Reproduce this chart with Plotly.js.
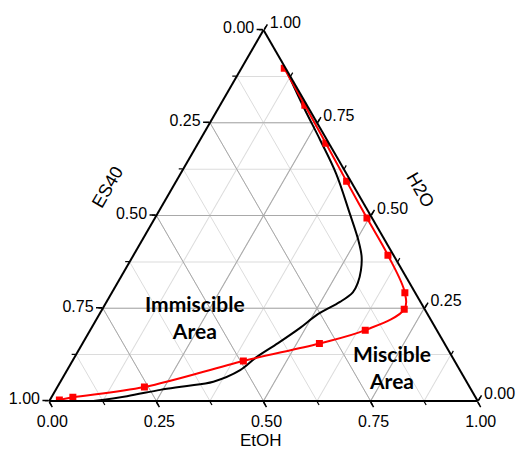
<!DOCTYPE html>
<html><head><meta charset="utf-8">
<script src="https://cdn.plot.ly/plotly-3.0.1.min.js"></script>
<style>html,body{margin:0;padding:0;background:#fff}#chart{width:523px;height:450px}</style>
</head><body><div id="chart"></div>
<script>
// Components: a = H2O (top vertex), b = ES40 (bottom-left), c = EtOH (bottom-right)
const redH2O  = [0.897,0.797,0.695,0.592,0.493,0.393,0.292,0.247,0.191,0.155,0.108,0.038,0.010,0.003];
const redES40 = [0.003,0.005,0.007,0.010,0.012,0.013,0.024,0.048,0.167,0.292,0.493,0.759,0.940,0.975];
const redEtOH = [0.100,0.198,0.298,0.398,0.495,0.594,0.684,0.705,0.642,0.553,0.399,0.203,0.050,0.022];

const blackH2O  = [0.900,0.797,0.703,0.613,0.505,0.433,0.390,0.353,0.318,0.293,0.267,0.234,0.197,0.156,0.119,0.083,0.052,0.040,0.030,0.013,0.000];
const blackES40 = [0.000,0.010,0.016,0.024,0.046,0.062,0.076,0.096,0.121,0.145,0.188,0.256,0.316,0.388,0.456,0.513,0.591,0.663,0.726,0.812,0.897];
const blackEtOH = [0.100,0.193,0.281,0.363,0.449,0.505,0.534,0.551,0.561,0.562,0.545,0.510,0.487,0.456,0.425,0.404,0.357,0.297,0.244,0.175,0.103];

// Each edge is labelled with the complementary component (counter-clockwise reading)
const tickValues = [0, 0.25, 0.5, 0.75, 1];
const tickLabels = ['1.00', '0.75', '0.50', '0.25', '0.00'];
const minorTickValues = [0, 0.125, 0.25, 0.375, 0.5, 0.625, 0.75, 0.875, 1];

const titleES40 = 'ES40', titleH2O = 'H2O', titleEtOH = 'EtOH';
const areaLabels = ['Immiscible<br>Area', 'Miscible<br>Area'];

const tickFont = {family: 'Liberation Sans, Arial, sans-serif', size: 16, color: '#000'};
const fullDomain = {x: [0, 1], y: [0, 1]};

function majorAxis() {
  return {
    title: {text: ''}, tickmode: 'array', tickvals: tickValues, ticktext: tickLabels,
    ticks: 'outside', ticklen: 6, tickwidth: 1.5, tickcolor: '#000',
    showline: true, linecolor: '#000', linewidth: 2,
    showgrid: true, gridcolor: '#a9a9a9', gridwidth: 1,
    tickfont: tickFont, min: 0
  };
}
function minorAxis() {
  return {
    title: {text: ''}, tickmode: 'array', tickvals: minorTickValues,
    ticks: 'outside', ticklen: 4, tickwidth: 1.2, tickcolor: '#000',
    showticklabels: false, showline: false,
    showgrid: true, gridcolor: '#dcdcdc', gridwidth: 1, min: 0
  };
}

const data = [
  {type: 'scatterternary', subplot: 'ternary', mode: 'markers',
   a: redH2O, b: redES40, c: redEtOH, marker: {opacity: 0}, hoverinfo: 'skip'},
  {type: 'scatterternary', subplot: 'ternary2', mode: 'lines',
   a: blackH2O, b: blackES40, c: blackEtOH,
   line: {color: '#000', width: 2, shape: 'spline', smoothing: 1}},
  {type: 'scatterternary', subplot: 'ternary2', mode: 'lines+markers',
   a: redH2O, b: redES40, c: redEtOH,
   line: {color: '#ff0000', width: 2, shape: 'spline', smoothing: 1},
   marker: {symbol: 'square', size: 7, color: '#ff0000'}}
];

const areaFont = {family: 'Lato, sans-serif', size: 21, weight: 'bold', color: '#000'};
const titleFont = {family: 'Liberation Sans, Arial, sans-serif', size: 18, color: '#000'};
const bottomTitleFont = {family: 'Liberation Sans, Arial, sans-serif', size: 17, color: '#000'};
function note(x, y, text, font, angle) {
  return {xref: 'paper', yref: 'paper', x: x, y: y, text: text, showarrow: false,
          xanchor: 'center', yanchor: 'middle', textangle: angle || 0, font: font, borderpad: 0};
}

const layout = {
  width: 523, height: 450,
  margin: {l: 49, r: 45, t: 30, b: 49},
  paper_bgcolor: '#fff', showlegend: false, hovermode: false, dragmode: false,
  ternary: {domain: fullDomain, sum: 1, bgcolor: '#fff', aaxis: minorAxis(), baxis: minorAxis(), caxis: minorAxis()},
  ternary2: {domain: fullDomain, sum: 1, bgcolor: 'rgba(0,0,0,0)', aaxis: majorAxis(), baxis: majorAxis(), caxis: majorAxis()},
  annotations: [
    note(0.340, 0.226, areaLabels[0], areaFont),
    note(0.799, 0.092, areaLabels[1], areaFont),
    note(0.494, -0.106, titleEtOH, bottomTitleFont),
    note(0.136, 0.578, titleES40, titleFont, -60),
    note(0.866, 0.569, titleH2O, titleFont, 60)
  ]
};

Plotly.newPlot('chart', data, layout, {staticPlot: true, displayModeBar: false});
</script>
</body></html>
